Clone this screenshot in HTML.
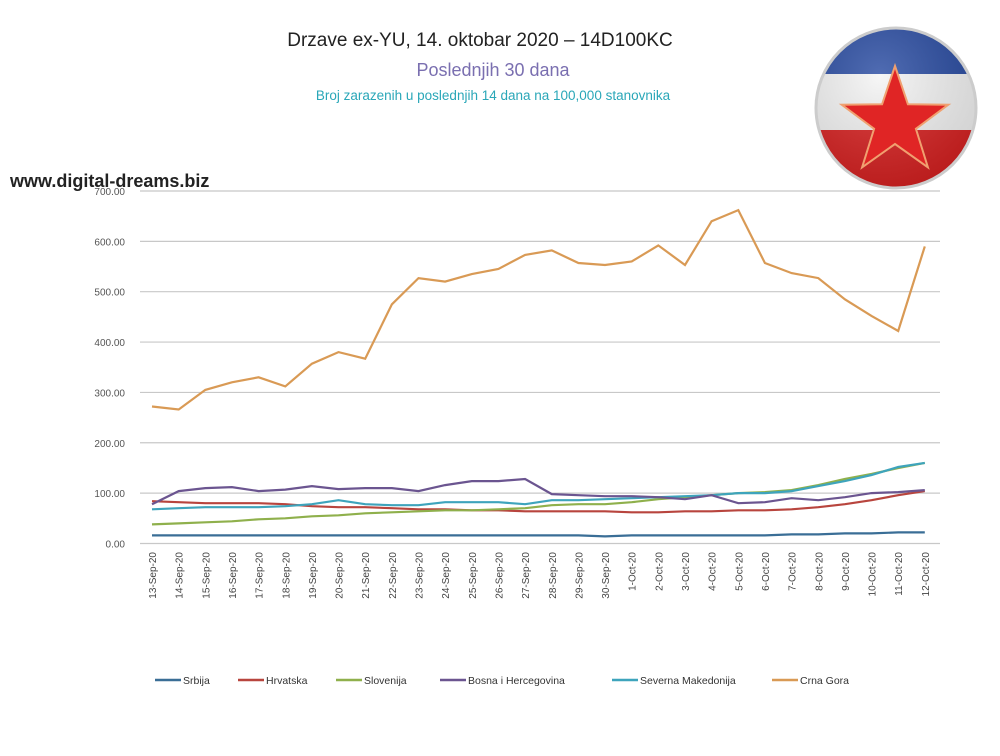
<!DOCTYPE html>
<html><head><meta charset="utf-8"><style>
body{margin:0;background:#fff;width:1000px;height:751px;overflow:hidden;font-family:"Liberation Sans",sans-serif;}
</style></head><body>
<svg id="s" width="1000" height="751" xmlns="http://www.w3.org/2000/svg">
<text x="480" y="46" text-anchor="middle" font-size="19" fill="#222">Drzave ex-YU, 14. oktobar 2020 – 14D100KC</text>
<text x="493" y="76" text-anchor="middle" font-size="18" fill="#7a6fb0">Poslednjih 30 dana</text>
<text x="493" y="100" text-anchor="middle" font-size="13.5" fill="#2aa7b8">Broj zarazenih u poslednjih 14 dana na 100,000 stanovnika</text>
<defs>
<clipPath id="c"><circle cx="896" cy="108" r="80"/></clipPath>
<radialGradient id="g" cx="0.4" cy="0.3" r="0.8"><stop offset="0" stop-color="#fff" stop-opacity="0.2"/><stop offset="1" stop-color="#000" stop-opacity="0.15"/></radialGradient>
</defs>
<g clip-path="url(#c)">
<rect x="810" y="20" width="180" height="54" fill="#2548a0"/>
<rect x="810" y="74" width="180" height="56" fill="#f4f4f4"/>
<rect x="810" y="130" width="180" height="70" fill="#d81e1e"/>
<circle cx="896" cy="108" r="80" fill="url(#g)"/>
</g>
<circle cx="896" cy="108" r="80" fill="none" stroke="#ccc" stroke-width="3"/>
<polygon id="star" fill="#e02525" stroke="#f0a070" stroke-width="2"/>
<text x="10" y="187" font-size="18" font-weight="bold" fill="#222">www.digital-dreams.biz</text>
<g id="grid"></g><g id="lines"></g><g id="xl"></g>
<g font-size="10" fill="#333" id="leg"></g>
</svg>
<script>
var s=document.getElementById('s'),NS='http://www.w3.org/2000/svg';
function el(t,a,p,txt){var e=document.createElementNS(NS,t);for(var k in a)e.setAttribute(k,a[k]);if(txt)e.textContent=txt;(p||s).appendChild(e);return e;}
var pts=[];for(var i=0;i<10;i++){var r=i%2?22:56,a=-Math.PI/2+i*Math.PI/5;pts.push((895+r*Math.cos(a)).toFixed(1)+','+(122+r*Math.sin(a)).toFixed(1));}
document.getElementById('star').setAttribute('points',pts.join(' '));
var y0=543.5,k=0.5036,x0=152,dx=26.65;
var g=document.getElementById('grid');
for(var v=0;v<=700;v+=100){var y=y0-v*k;el('line',{x1:140,x2:940,y1:y,y2:y,stroke:'#c8c8c8','stroke-width':1.2},g);
el('text',{x:125,y:y+4,'text-anchor':'end','font-size':10,fill:'#555'},g,v.toFixed(2));}
var D={
srb:[16,16,16,16,16,16,16,16,16,16,16,16,16,16,16,16,16,14,16,16,16,16,16,16,18,18,20,20,22,22],
hrv:[84,82,80,80,80,78,74,72,72,70,68,68,66,66,64,64,64,64,62,62,64,64,66,66,68,72,78,86,96,104],
slo:[38,40,42,44,48,50,54,56,60,62,64,66,66,68,70,76,78,78,82,88,92,96,100,102,106,116,128,138,150,160],
bih:[78,104,110,112,104,107,114,108,110,110,104,116,124,124,128,98,96,94,94,92,88,96,80,82,90,86,92,100,102,106],
mak:[68,70,72,72,72,74,78,86,78,76,76,82,82,82,78,86,86,88,90,92,94,96,100,100,104,114,124,136,152,160],
cg:[272,266,305,320,330,312,357,380,367,475,527,520,535,545,573,582,557,553,560,592,553,640,662,557,537,527,485,452,422,590]};
var C={srb:'#3a6e96',hrv:'#b8453e',slo:'#8fb04c',bih:'#6b5590',mak:'#3ea4bc',cg:'#d99a55'};
var L=document.getElementById('lines');
['srb','hrv','slo','mak','bih','cg'].forEach(function(n){el('polyline',{points:D[n].map(function(v,i){return (x0+i*dx).toFixed(1)+','+(y0-v*k).toFixed(1)}).join(' '),fill:'none',stroke:C[n],'stroke-width':2.2},L);});
var lab=[];for(var d=13;d<=30;d++)lab.push(d+'-Sep-20');for(d=1;d<=12;d++)lab.push(d+'-Oct-20');
var X=document.getElementById('xl');
lab.forEach(function(t,i){var x=x0+i*dx+4;el('text',{x:x,y:552,'text-anchor':'end','font-size':10,fill:'#444',transform:'rotate(-90 '+x+' 552)'},X,t);});
var lg=[['srb','Srbija',155],['hrv','Hrvatska',238],['slo','Slovenija',336],['bih','Bosna i Hercegovina',440],['mak','Severna Makedonija',612],['cg','Crna Gora',772]];
var G=document.getElementById('leg');
lg.forEach(function(a){el('line',{x1:a[2],x2:a[2]+26,y1:680,y2:680,stroke:C[a[0]],'stroke-width':2.5},G);el('text',{x:a[2]+28,y:684,'font-size':10.5,fill:'#333'},G,a[1]);});
</script>
</body></html>
